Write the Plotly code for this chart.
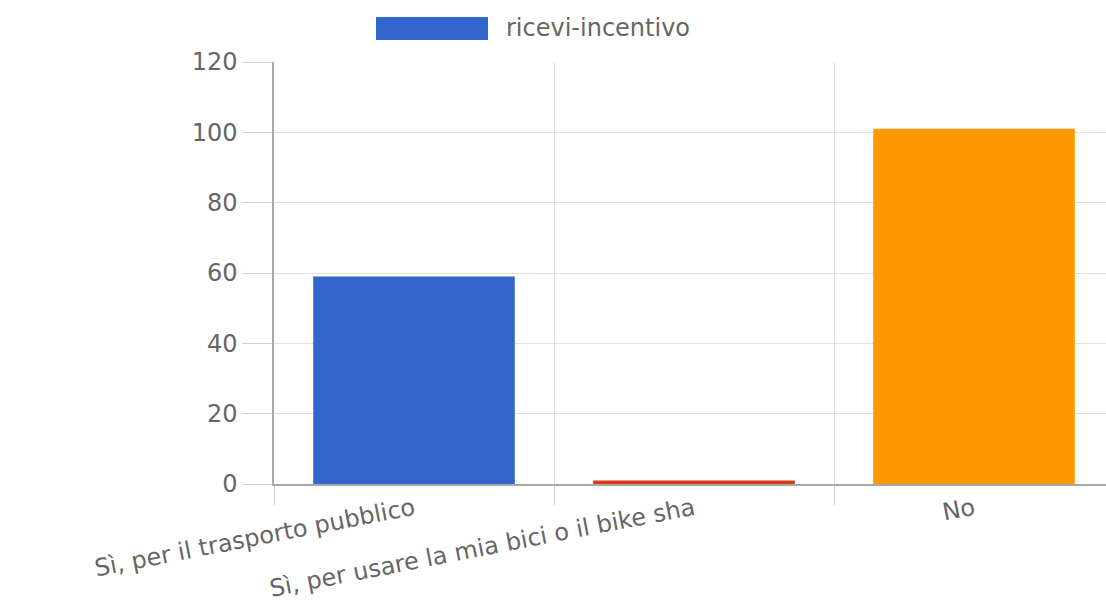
import plotly.graph_objects as go

categories = ["Sì, per il trasporto pubblico", "Sì, per usare la mia bici o il bike sha", "No"]
values = [59, 1, 101]
colors = ["#3366cc", "#dc3912", "#ff9900"]
series_name = "ricevi-incentivo"
y_ticks = [0, 20, 40, 60, 80, 100, 120]

W, H = 1106, 607
L, R, T, B = 274, 0, 62, 607 - 484
pw, ph = W - L - R, H - T - B

def px(x):
    return (x - L) / pw

def py(y):
    return (H - B - y) / ph

font = dict(family="DejaVu Sans, Arial, sans-serif", size=24, color="#666666")

fig = go.Figure()
fig.add_trace(go.Bar(
    x=categories, y=values, name=series_name,
    marker=dict(color=colors, line=dict(width=0)),
    width=0.72, showlegend=False,
))

fig.update_layout(
    width=W, height=H,
    margin=dict(l=L, r=R, t=T, b=B, autoexpand=False),
    plot_bgcolor="white", paper_bgcolor="white",
    font=font,
)
fig.update_xaxes(
    type="category",
    range=[-0.5, -0.5 + pw / 280],
    tickson="boundaries",
    ticks="outside", ticklen=19, tickcolor="#d0d0d0", tickwidth=1,
    showgrid=True, gridcolor="#e0e0e0", gridwidth=1,
    showline=True, linecolor="#a8a8a8", linewidth=1.5,
    tickangle=-11,
    tickfont=font,
    automargin=False,
)
fig.update_yaxes(
    range=[0, 120],
    tickvals=y_ticks,
    ticks="outside", ticklen=30, tickcolor="#d0d0d0", tickwidth=1,
    showgrid=True, gridcolor="#e0e0e0", gridwidth=1,
    showline=True, linecolor="#a8a8a8", linewidth=1.5,
    zeroline=False,
    tickfont=font,
    automargin=False,
)

# legend drawn as shape + label
fig.add_shape(type="rect", xref="paper", yref="paper",
              x0=px(376), x1=px(488), y0=py(40), y1=py(17),
              fillcolor=colors[0], line=dict(width=0))
fig.add_annotation(xref="paper", yref="paper", x=px(504), y=py(28),
                   text=series_name, showarrow=False,
                   xanchor="left", yanchor="middle", font=font)

fig.write_html(
    "out.html",
    config={"displayModeBar": False},
    post_script="document.body.style.margin='0';document.body.style.overflow='hidden';",
)
